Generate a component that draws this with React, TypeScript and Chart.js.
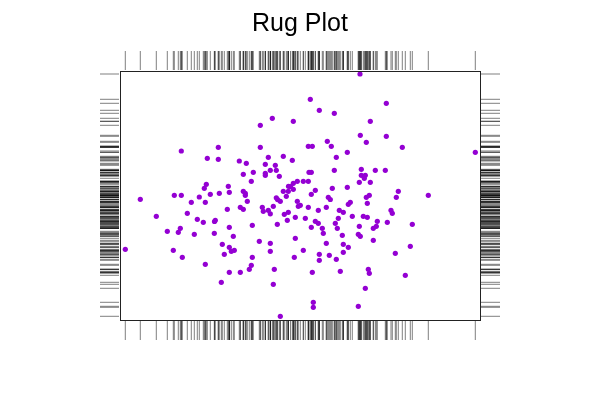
import React, { useEffect, useRef } from "react";
import { Chart, registerables } from "chart.js";

Chart.register(...registerables);

const title = "Rug Plot";

// x values (horizontal variable)
const xs = [
  61.3, 98.3, 87.3, 98.3, 119.3, 86.3, 84.3, 108.3, 109.3, 90.3, 99.3, 54.3, 61.3, 79.3, 20.3, 123.3, 123.3,
  240, 190.3, 199.3, 214.3, 152.3, 173.3, 140.3, 240.3, 188.3, 192.3, 207.3, 211.3, 140.3, 227.3, 163.3, 148.3,
  172.3, 216.3, 126.3, 145.3, 155.3, 150.3, 156.3, 133.3, 145.3, 145.3, 159.3, 189, 191.3, 214.3, 241.3, 241.3,
  131.3, 177.3, 183.3, 188.3, 173.3, 168.5, 170.5, 173.3, 163.3, 168.3, 195.3, 212.3, 227.3, 239.3, 125.3, 125.3,
  191.3, 166.3, 156.3, 208.3,
  266.3, 250.3, 266.3, 246.3, 282.3, 355.3, 255.3, 265.3, 245.3, 244.3, 250.3, 278.3, 249.3, 246.3, 276.3, 308.3,
  71.3, 85.3, 107.3, 120.3, 67.3, 36.3, 77.3, 83.3, 95.3, 94.5, 60.3, 47.3, 58.3, 74.3, 94.3, 109.3, 113.3,
  102.3, 109.3, 111.3, 114.3, 104.3, 5.3, 53.3, 62.3, 85.3, 109.3, 120.3, 101.3,
  127.3, 157.6, 160.3, 177.3, 210.3, 228.3, 230.3, 123.3, 142.3, 143.3, 148.3, 150.3, 153.3, 180.3, 178.3, 188.3,
  198.3, 206.3, 219.3, 223.3, 232.3, 164.3, 168.3, 175.3, 167.3, 185.3, 132.3, 157.3, 191.3, 195.3, 198.3, 202.3,
  203.3, 215.3, 218.3, 217.3, 222.3, 239.3, 238.3, 240.3, 175.3, 139.3, 150.3, 206.3, 223.3, 228.3, 150.3, 183.3,
  223.3, 199.3, 209.3, 132.3, 174.3, 199.3, 216.3, 131.3, 129.3, 154.3, 192.3, 220.3, 153.3, 193.3, 193.3, 238.3,
  160.3,
  247.3, 271, 272.3, 243.3, 247.3, 257.3, 267.3, 292.3, 253.3, 256.3, 253.3, 290.3, 275.3, 248.3, 249.3, 285.3,
  245.3,
];

// y values (vertical variable)
const ys = [
  169, 172.7, 161.7, 160.7, 159, 135.7, 131.7, 133.7, 127.7, 125.7, 126.7, 124.7, 124.7, 123, 120.7, 145.7, 128.7,
  246, 220.7, 209.7, 206.7, 201.7, 198.7, 194.7, 184.7, 173.7, 173.7, 178.7, 173.7, 172.7, 167.7, 163.7, 162.7,
  159.7, 162.7, 156.7, 155.7, 154.7, 149.7, 149.7, 147.7, 146.7, 144.7, 143.7, 147.7, 147.7, 149.7, 150.7, 144.7,
  138.7, 138.7, 138.7, 138.7, 136.7, 133.7, 133.5, 130.7, 128.7, 128.7, 129.7, 131.7, 132.7, 137.7, 126.7, 124.7,
  125.7, 123.7, 122.2, 122.7,
  216.7, 198.7, 183.7, 177.7, 172.7, 167.7, 149.7, 149.7, 144.7, 141.7, 137.7, 128.7, 124.7, 122.7, 122.7, 124.7,
  117.7, 117.7, 110.7, 112.7, 106.7, 103.7, 100.7, 97.7, 99.7, 98.5, 91.7, 88.7, 87.7, 85.7, 86.7, 92.7, 83.7,
  75.7, 72.7, 68.7, 69.7, 65.7, 70.7, 69.7, 62.7, 55.7, 47.7, 47.7, 37.7,
  118.7, 120.4, 118.7, 118.7, 120.5, 115.7, 117.7, 110.7, 112.7, 108.7, 109.7, 106.2, 113.7, 114.7, 113.7, 112.7,
  109.7, 112.7, 109.7, 107.7, 103.7, 105.7, 107.7, 102.7, 99.7, 101.7, 94.7, 95.7, 92.7, 98.7, 96.7, 91.7,
  86.7, 96.7, 101.7, 91.7, 84.7, 93.7, 85.7, 83.7, 81.7, 78.7, 76.7, 76.7, 75.7, 72.7, 68.7, 69.7,
  67.7, 65.7, 64.7, 62.7, 62.7, 59.7, 60.7, 54.7, 50.7, 50.7, 47.7, 48.7, 35.7, 17.7, 12.7, 13.7,
  3.7,
  116.7, 109.7, 106.7, 103.7, 102.7, 98.7, 97.7, 95.7, 91.7, 93.7, 79.7, 73.7, 66.7, 50.7, 46.7, 44.7,
  31.7,
];

const xRange = [0, 360];
const yRange = [0, 249];

const rugPlugin = {
  id: "rugFrame",
  afterDatasetsDraw(chart: any) {
    const { ctx, chartArea, scales } = chart;
    const { left, right, top, bottom } = chartArea;
    const len = 19;
    ctx.save();
    ctx.lineWidth = 1;
    ctx.strokeStyle = "rgba(0,0,0,0.5)";
    ctx.beginPath();
    for (let i = 0; i < xs.length; i++) {
      const px = scales.x.getPixelForValue(xs[i]);
      const py = scales.y.getPixelForValue(ys[i]);
      ctx.moveTo(px, top - 1);
      ctx.lineTo(px, top - 1 - len);
      ctx.moveTo(px, bottom + 1);
      ctx.lineTo(px, bottom + 1 + len);
      ctx.moveTo(left - 1, py);
      ctx.lineTo(left - 1 - len, py);
      ctx.moveTo(right + 1, py);
      ctx.lineTo(right + 1 + len, py);
    }
    ctx.stroke();
    ctx.strokeStyle = "#222";
    ctx.strokeRect(Math.round(left) + 0.5, Math.round(top) + 0.5, Math.round(right - left), Math.round(bottom - top));
    ctx.restore();
  },
};

export default function App() {
  const ref = useRef<HTMLCanvasElement | null>(null);
  useEffect(() => {
    if (!ref.current) return;
    const chart = new Chart(ref.current, {
      type: "scatter",
      data: {
        datasets: [
          {
            data: xs.map((x, i) => ({ x, y: ys[i] })),
            backgroundColor: "#9400D3",
            borderWidth: 0,
            pointRadius: 2.6,
          },
        ],
      },
      options: {
        responsive: false,
        animation: false,
        layout: { padding: { left: 120, right: 120, top: 0, bottom: 80 } },
        scales: {
          x: { type: "linear", min: xRange[0], max: xRange[1], display: false },
          y: { type: "linear", min: yRange[0], max: yRange[1], display: false },
        },
        plugins: {
          legend: { display: false },
          tooltip: { enabled: false },
          title: {
            display: true,
            text: title,
            color: "#000",
            font: { family: "'Liberation Sans', Arial, sans-serif", size: 25, weight: "normal" },
            padding: { top: 9.3, bottom: 31.7 },
          },
        },
      },
      plugins: [rugPlugin],
    });
    return () => chart.destroy();
  }, []);
  return (
    <div style={{ position: "absolute", left: 0, top: 0, width: 600, height: 400, background: "#fff" }}>
      <canvas ref={ref} width={600} height={400} />
    </div>
  );
}
